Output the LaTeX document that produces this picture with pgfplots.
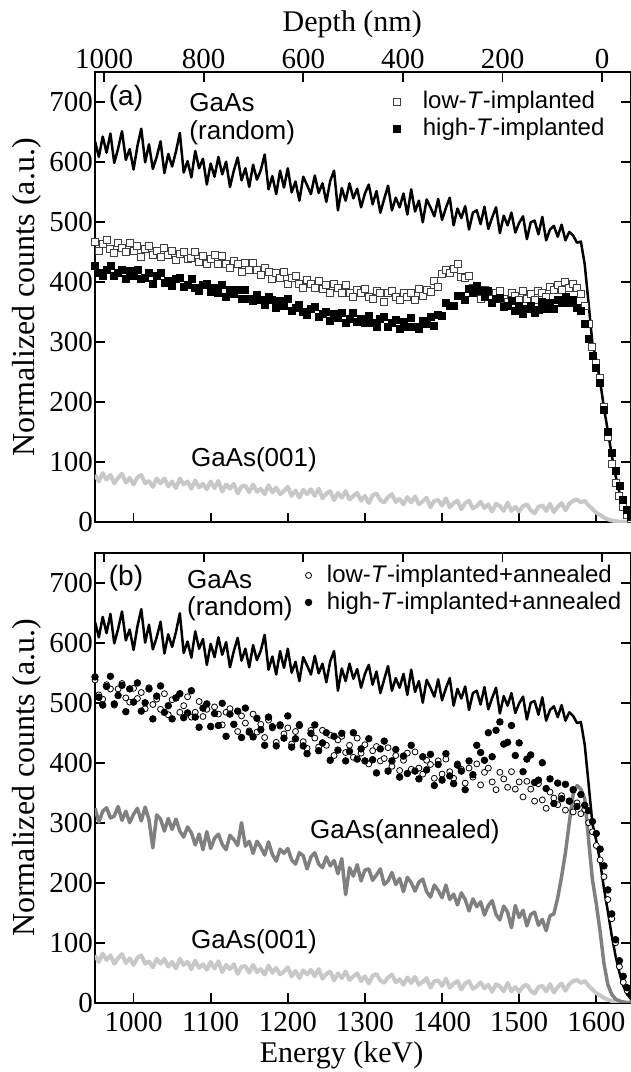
\documentclass[border=0pt]{standalone}
\usepackage{pgfplots}
\pgfplotsset{compat=1.18}
\usepackage{pgfplotstable}
\usepackage{fontspec}
\setmainfont{Liberation Serif}
\newfontfamily\arial{Liberation Sans}

\definecolor{lgray}{RGB}{200,200,200}
\definecolor{mgray}{RGB}{128,128,128}

% E (keV): random, (001), low-T, high-T, low-T+ann, high-T+ann, annealed
\pgfplotstableread{
E rnd g001 lowT highT lowA highA ann
950 635 79 467 427 538 543 324
955 609 68 453 415 513 509 301
960 643 82 464 411 506 496 319
965 616 71 470 421 530 527 325
970 648 79 455 427 523 544 308
975 599 65 449 411 496 498 311
980 623 74 465 415 523 512 327
985 652 81 458 421 532 529 304
990 604 66 450 406 508 485 319
995 622 74 465 419 501 523 300
1000 588 63 452 411 524 501 314
1005 627 75 460 421 507 533 324
1010 656 79 443 405 517 486 303
1015 600 65 456 408 490 500 326
1020 630 69 460 415 525 523 305
1025 589 59 446 398 497 473 258
1030 609 73 452 410 506 511 313
1035 635 65 442 415 489 528 306
1040 582 73 458 399 515 484 286
1045 614 60 445 402 480 495 307
1050 593 68 452 394 505 473 289
1055 618 57 437 405 508 508 306
1060 649 73 448 407 484 515 286
1065 583 63 451 393 495 475 276
1070 602 68 439 395 510 483 293
1075 575 56 441 406 476 520 283
1080 619 70 450 391 484 476 263
1085 590 58 434 385 502 459 281
1090 606 64 444 395 477 491 255
1095 563 55 431 397 489 498 285
1100 598 68 439 384 461 460 257
1105 576 57 445 391 493 482 274
1110 609 69 430 383 481 462 281
1115 580 51 444 395 463 499 264
1120 601 63 430 375 484 444 255
1125 559 56 424 387 490 481 279
1130 586 64 435 381 464 464 272
1135 608 48 431 387 452 486 262
1140 570 60 418 372 478 442 300
1145 590 61 432 387 466 491 261
1150 559 50 421 373 453 451 269
1155 596 63 432 369 481 443 249
1160 571 51 420 379 451 474 269
1165 587 56 413 371 464 455 259
1170 613 47 424 362 442 429 246
1175 555 62 418 376 471 476 268
1180 577 50 405 370 458 460 247
1185 547 58 416 358 434 428 236
1190 586 47 407 369 461 463 256
1195 558 52 417 360 448 441 249
1200 590 59 398 372 458 478 257
1205 550 44 408 353 431 426 238
1210 568 53 410 357 452 440 231
1215 536 41 398 363 464 462 250
1220 576 54 391 351 435 428 245
1225 562 47 404 345 424 415 223
1230 547 55 398 355 454 449 243
1235 578 44 391 359 441 463 250
1240 549 56 403 343 426 420 231
1245 565 40 389 347 454 433 225
1250 534 48 395 351 429 450 243
1255 569 52 383 335 446 404 228
1260 586 37 397 348 412 444 237
1265 520 49 391 340 438 421 215
1270 557 41 382 349 444 449 240
1275 536 52 396 333 417 403 180
1280 565 38 382 339 429 419 225
1285 540 44 375 349 409 450 211
1290 556 49 388 334 441 406 230
1295 525 36 383 339 416 423 203
1300 548 44 389 332 430 403 221
1305 563 32 376 344 398 440 223
1310 530 45 373 333 420 405 204
1315 552 48 385 325 427 383 213
1320 516 37 382 339 403 423 223
1325 539 33 368 343 407 436 197
1330 561 42 382 326 425 386 203
1335 520 47 386 332 394 403 217
1340 541 34 375 338 412 422 197
1345 525 39 371 323 387 376 207
1350 548 30 383 334 404 411 185
1355 513 42 376 325 416 382 209
1360 555 33 383 341 389 429 200
1365 518 43 370 326 418 386 186
1370 536 30 389 322 391 373 201
1375 500 35 377 336 381 410 206
1380 538 41 387 330 404 388 185
1385 525 25 384 342 397 414 176
1390 510 36 403 328 374 362 196
1395 539 37 393 346 403 397 187
1400 504 28 414 344 381 371 175
1405 524 40 421 366 406 415 196
1410 541 25 415 361 385 378 172
1415 495 32 422 361 374 365 181
1420 523 36 431 377 398 396 163
1425 507 22 409 377 389 386 183
1430 527 32 408 371 366 355 172
1435 488 36 410 389 391 403 153
1440 516 23 391 382 376 380 173
1445 520 27 391 394 398 429 160
1450 497 34 372 385 363 417 168
1455 526 24 388 375 384 404 146
1460 489 30 382 385 391 450 162
1465 508 18 372 365 368 410 170
1470 525 31 382 373 355 454 147
1475 482 27 385 374 384 468 138
1480 511 19 373 359 373 431 161
1485 495 33 368 360 359 434 151
1490 516 19 382 369 385 462 125
1495 483 26 377 352 356 412 162
1500 499 18 371 361 368 433 142
1505 510 27 386 347 343 385 154
1510 472 30 373 356 369 406 128
1515 500 20 380 361 356 413 147
1520 503 15 371 349 336 367 151
1525 480 26 386 354 365 371 129
1530 509 28 383 367 338 400 139
1535 470 19 376 356 324 357 120
1540 488 31 393 366 351 373 145
1545 494 17 388 356 341 332 148
1550 476 26 396 371 330 366 175
1555 496 32 388 365 345 340 210
1560 470 20 401 375 321 364 250
1565 484 31 390 366 336 336 300
1570 478 36 397 370 318 355 348
1575 466 38 390 357 333 327 362
1580 468 33 380 352 315 347 356
1585 430 36 360 330 322 329 340
1590 365 28 330 305 300 320 272
1595 298 22 292 278 285 302 205
1600 270 16 265 258 262 282 165
1605 235 12 240 232 238 256 118
1610 190 8 192 188 210 228 65
1615 152 5 142 150 172 188 30
1620 112 3 97 116 140 148 14
1625 78 2 66 85 100 105 6
1630 50 1 44 60 60 70 3
1635 28 1 26 38 34 44 1
1640 14 0 12 20 20 25 0
1645 6 0 5 9 12 14 0
}\rbs

\pgfplotsset{
  panel/.style={
    scale only axis, width=268pt, height=225pt,
    xmin=950, xmax=1645, ymin=0, ymax=750,
    xtick={1000,1100,...,1600}, ytick={0,100,...,700},
    xtick pos=bottom, yticklabel pos=left,
    tick align=inside, major tick length=4.8pt,
    axis line style={line width=0.9pt},
    every tick/.style={black, line width=0.9pt},
    tick label style={font=\fontsize{14.5}{16}\selectfont},
    yticklabel style={xshift=2.5pt},
    xticklabel style={yshift=-1pt},
    /pgf/number format/assume math mode=true,
    /pgf/number format/1000 sep={},
    ylabel={Normalized counts (a.u.)},
    ylabel style={at={(axis description cs:-0.127,0.5)}, anchor=center,
      font=\fontsize{16}{18}\selectfont},
    clip mode=individual,
    legend cell align=left,
  },
  depth/.style={
    scale only axis, width=268pt, height=225pt,
    xmin=-57.9, xmax=1018.1, x dir=reverse, ymin=0, ymax=1,
    axis x line*=top, axis y line=none,
    xtick={0,200,...,1000},
    tick align=inside, major tick length=4.8pt,
    axis line style={line width=0.9pt},
    every tick/.style={black, line width=0.9pt},
    tick label style={font=\fontsize{14.5}{16}\selectfont},
    xticklabel style={yshift=-2pt},
    /pgf/number format/assume math mode=true,
    /pgf/number format/1000 sep={},
  },
  rand/.style={black, line width=1.25pt, line join=round},
  c001/.style={lgray, line width=2pt, line join=round},
  cann/.style={mgray, line width=1.75pt, line join=round},
  osq/.style={only marks, mark=square*, mark size=1.75pt,
    mark options={draw=black!75, fill=white, line width=0.45pt}},
  fsq/.style={only marks, mark=square*, mark size=1.75pt,
    mark options={draw=black, fill=black}},
  ocirc/.style={only marks, mark=*, mark size=1.5pt,
    mark options={draw=black, fill=white, line width=0.4pt}},
  fcirc/.style={only marks, mark=*, mark size=1.65pt,
    mark options={draw=black, fill=black}},
}

\begin{document}
\begin{tikzpicture}
\path[use as bounding box] (-47.5pt,-34.65pt) rectangle (268pt,501.35pt);

% panel (a)
\begin{axis}[panel, at={(0pt,240.2pt)}, anchor=south west,
  xticklabels={},
  legend image code/.code={\path (-4pt,0pt) (12pt,0pt);
    \draw[#1] plot coordinates {(0pt,0pt)};},
  legend style={at={(axis cs:1329.5,723)}, anchor=north west, draw=none,
    fill=none, inner sep=0pt, row sep=0.8pt,
    nodes={inner sep=1pt, text depth=0.2em},
    font=\arial\fontsize{12}{14}\selectfont}]
\addplot[c001, forget plot] table[x=E, y=g001] {\rbs};
\addplot[rand, forget plot] table[x=E, y=rnd] {\rbs};
\addplot[osq] table[x=E, y=lowT] {\rbs};
\addlegendentry{low-\textit{T}-implanted}
\addplot[fsq] table[x=E, y=highT] {\rbs};
\addlegendentry{high-\textit{T}-implanted}
\node[anchor=west, inner sep=0pt, font=\arial\fontsize{14}{16}\selectfont] at (axis cs:967.5,707) {(a)};
\node[anchor=west, inner sep=0pt, font=\arial\fontsize{13}{15}\selectfont] at (axis cs:1072,700) {GaAs};
\node[anchor=west, inner sep=0pt, font=\arial\fontsize{13}{15}\selectfont] at (axis cs:1072,650) {(random)};
\node[anchor=west, inner sep=0pt, font=\arial\fontsize{13}{15}\selectfont] at (axis cs:1074,104) {GaAs(001)};
\end{axis}
\begin{axis}[depth, at={(0pt,240.2pt)}, anchor=south west,
  xlabel={Depth (nm)},
  xlabel style={at={(axis description cs:0.48,1)}, anchor=center, yshift=24pt,
    font=\fontsize{15}{17}\selectfont}]
\end{axis}

% panel (b)
\begin{axis}[panel, at={(0pt,0pt)}, anchor=south west,
  xlabel={Energy (keV)},
  xlabel style={at={(axis description cs:0.46,0)}, anchor=center, yshift=-26.5pt,
    font=\fontsize{15}{17}\selectfont},
  legend image code/.code={\path (-4pt,0pt) (8pt,0pt);
    \draw[#1] plot coordinates {(0pt,0pt)};},
  legend style={at={(axis cs:1215.5,734)}, anchor=north west, draw=none,
    fill=none, inner sep=0pt, row sep=0.8pt,
    nodes={inner sep=1pt, text depth=0.2em},
    font=\arial\fontsize{12}{14}\selectfont}]
\addplot[c001, forget plot] table[x=E, y=g001] {\rbs};
\addplot[cann, forget plot] table[x=E, y=ann] {\rbs};
\addplot[rand, forget plot] table[x=E, y=rnd] {\rbs};
\addplot[ocirc] table[x=E, y=lowA] {\rbs};
\addlegendentry{low-\textit{T}-implanted+annealed}
\addplot[fcirc] table[x=E, y=highA] {\rbs};
\addlegendentry{high-\textit{T}-implanted+annealed}
\node[anchor=west, inner sep=0pt, font=\arial\fontsize{14}{16}\selectfont] at (axis cs:967.5,707) {(b)};
\node[anchor=west, inner sep=0pt, font=\arial\fontsize{13}{15}\selectfont] at (axis cs:1069,705) {GaAs};
\node[anchor=west, inner sep=0pt, font=\arial\fontsize{13}{15}\selectfont] at (axis cs:1069,657) {(random)};
\node[anchor=west, inner sep=0pt, font=\arial\fontsize{13}{15}\selectfont] at (axis cs:1228.5,285) {GaAs(annealed)};
\node[anchor=west, inner sep=0pt, font=\arial\fontsize{13}{15}\selectfont] at (axis cs:1074,101.5) {GaAs(001)};
\end{axis}
\begin{axis}[depth, at={(0pt,0pt)}, anchor=south west, xticklabels={}]
\end{axis}
\end{tikzpicture}
\end{document}
